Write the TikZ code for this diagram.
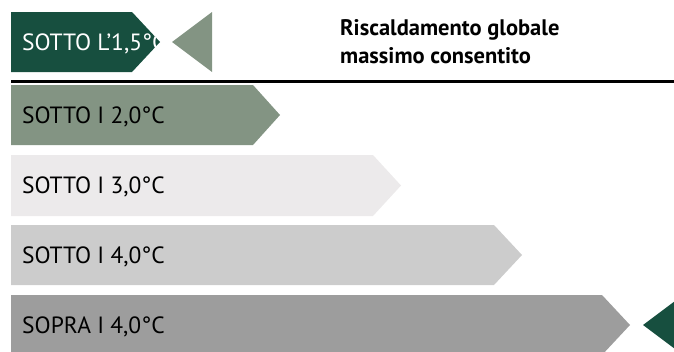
\documentclass[tikz,border=0pt]{standalone}
\usepackage{fontspec}
\setmainfont{PT Sans}
\definecolor{dkgreen}{HTML}{174F3F}
\definecolor{sage}{HTML}{839483}
\definecolor{lightg}{HTML}{ECEAEB}
\definecolor{midg}{HTML}{CCCCCC}
\definecolor{darkg}{HTML}{9D9D9D}
\tikzset{
  lbl/.style={anchor=base west, inner sep=0pt, font=\fontsize{23.5}{23.5}\selectfont, text=black},
  ttl/.style={anchor=base west, inner sep=0pt, font=\bfseries\fontsize{22.5}{22.5}\selectfont, text=black}
}
\begin{document}
\begin{tikzpicture}[x=1pt,y=-1pt]
\useasboundingbox (0,0) rectangle (674,351);
\clip (0,0) rectangle (674,351);
% bars
\fill[dkgreen] (11,12) -- (132,12) -- (160,42) -- (132,72) -- (11,72) -- cycle;
\fill[sage] (172,42) -- (212,12) -- (212,72) -- cycle;
\fill[sage] (11,85) -- (253,85) -- (280,115) -- (253,145) -- (11,145) -- cycle;
\fill[lightg] (11,155) -- (373,155) -- (401,185.5) -- (373,216) -- (11,216) -- cycle;
\fill[midg] (11,225) -- (494,225) -- (522,255) -- (494,285) -- (11,285) -- cycle;
\fill[darkg] (11,295) -- (602,295) -- (630,325) -- (602,355) -- (11,355) -- cycle;
\fill[dkgreen] (643,325) -- (683,295) -- (683,355) -- cycle;
% rule
\coordinate (rl) at (11,81.5);
\coordinate (rr) at (674,81.5);
\draw[line width=3pt] (rl) -- (rr);
% labels
\begin{scope}
\clip (11,12) -- (132,12) -- (160,42) -- (132,72) -- (11,72) -- cycle;
\node[lbl, text=white] (l1) at (22,50) {SOTTO L’1,5°C};
\end{scope}
\node[lbl] (l2) at (22,123) {SOTTO I 2,0°C};
\node[lbl] (l3) at (22,193.5) {SOTTO I 3,0°C};
\node[lbl] (l4) at (22,263) {SOTTO I 4,0°C};
\node[lbl] (l5) at (22,333) {SOPRA I 4,0°C};
\node[ttl] (t1) at (340,35) {Riscaldamento globale};
\node[ttl] (t2) at (340,63) {massimo consentito};
\end{tikzpicture}
\end{document}
